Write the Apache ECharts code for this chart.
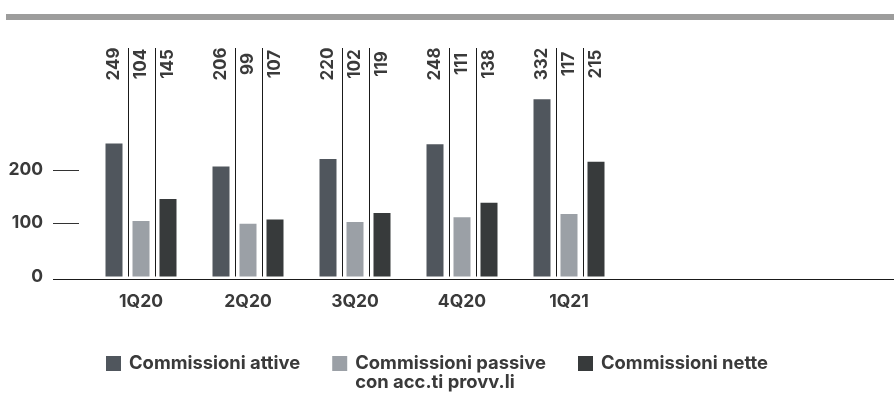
<!DOCTYPE html>
<html>
<head>
<meta charset="utf-8">
<script src="https://cdn.jsdelivr.net/npm/echarts@6/dist/echarts.min.js"></script>
<style>
  html, body { margin: 0; padding: 0; background: #fff; }
  #chart { width: 894px; height: 394px; }
</style>
</head>
<body>
<div id="chart"></div>
<script>
// data
const quarters = ['1Q20', '2Q20', '3Q20', '4Q20', '1Q21']
const attive = [249, 206, 220, 248, 332]
const passive = [104, 99, 102, 111, 117]
const nette = [145, 107, 119, 138, 215]
const yLabels = [0, 100, 200]
const yTicks = [100, 200]

const seriesNames = ['Commissioni attive', 'Commissioni passive\ncon acc.ti provv.li', 'Commissioni nette']
const colors = ['#50565d', '#9ba0a6', '#373a3b']
const TEXT = '#3a3a3a'
const FONT = 'Inter'
const BAR_W = 17
const BAR_GAP = 10

const chart = echarts.init(document.getElementById('chart'))
const all = [attive, passive, nette]

const option = {
  animation: false,
  color: colors,
  textStyle: { fontFamily: FONT },
  grid: { left: 87.5, right: 271.5, top: 47, bottom: 117.5 },
  xAxis: {
    type: 'category',
    data: quarters,
    axisLine: { show: false },
    axisTick: { show: false },
    axisLabel: { margin: 16, fontSize: 17.5, fontWeight: 'bold', color: TEXT, fontFamily: FONT },
  },
  yAxis: {
    type: 'value',
    min: 0,
    max: 430,
    interval: 100,
    offset: 8.5,
    splitLine: { show: false },
    axisLine: { show: false },
    axisTick: { show: true, length: 26, customValues: yTicks, lineStyle: { color: '#333', width: 1 } },
    axisLabel: { margin: 36, fontSize: 17.5, fontWeight: 'bold', color: TEXT, fontFamily: FONT, customValues: yLabels },
  },
  legend: {
    left: 106,
    top: 335,
    padding: 0,
    itemWidth: 15,
    itemHeight: 15,
    itemGap: 32,
    icon: 'rect',
    // extra blank line keeps the first line of the two-line entry level with its square
    formatter: function (name) {
      return name.indexOf('\n') > -1 ? ' \n' + name : name
    },
    textStyle: { fontSize: 18.4, fontWeight: 'bold', color: TEXT, fontFamily: FONT, lineHeight: 19, padding: [0, 0, 0, 3] },
    data: seriesNames,
  },
  series: [
    { name: seriesNames[0], type: 'bar', data: attive, barWidth: BAR_W, barGap: (BAR_GAP / BAR_W * 100) + '%' },
    { name: seriesNames[1], type: 'bar', data: passive, barWidth: BAR_W, barGap: (BAR_GAP / BAR_W * 100) + '%' },
    { name: seriesNames[2], type: 'bar', data: nette, barWidth: BAR_W, barGap: (BAR_GAP / BAR_W * 100) + '%' },
    {
      // value labels on top + separator lines between bars
      type: 'custom',
      silent: true,
      data: quarters.map((q, i) => [i]),
      renderItem: function (params, api) {
        const i = params.dataIndex
        const cx = api.coord([i, 0])[0]
        const bottom = api.coord([i, 0])[1]
        const top = params.coordSys.y + 1
        const pitch = BAR_W + BAR_GAP
        const children = []
        for (let s = 0; s < 3; s++) {
          children.push({
            type: 'text',
            x: cx + (s - 1) * pitch,
            y: top + 16,
            rotation: Math.PI / 2,
            style: {
              text: String(all[s][i]),
              fill: TEXT,
              font: 'bold 17px ' + FONT,
              align: 'center',
              verticalAlign: 'middle',
            },
          })
        }
        for (let k = 0; k < 2; k++) {
          const lx = Math.round(cx + (k - 0.5) * pitch) + 0.5
          children.push({
            type: 'line',
            shape: { x1: lx, y1: top, x2: lx, y2: bottom },
            style: { stroke: '#1a1a1a', lineWidth: 1 },
          })
        }
        return { type: 'group', children: children }
      },
    },
  ],
}
chart.setOption(option)

// top rule + baseline running the full width
const zeroY = chart.convertToPixel({ yAxisIndex: 0 }, 0)
chart.setOption({
  graphic: [
    { type: 'rect', shape: { x: 6, y: 14, width: 888, height: 6 }, style: { fill: '#9d9d9c' } },
    { type: 'line', shape: { x1: 53, y1: Math.round(zeroY) + 2.5, x2: 894, y2: Math.round(zeroY) + 2.5 }, style: { stroke: '#1a1a1a', lineWidth: 1.2 } },
  ],
})
</script>
</body>
</html>
